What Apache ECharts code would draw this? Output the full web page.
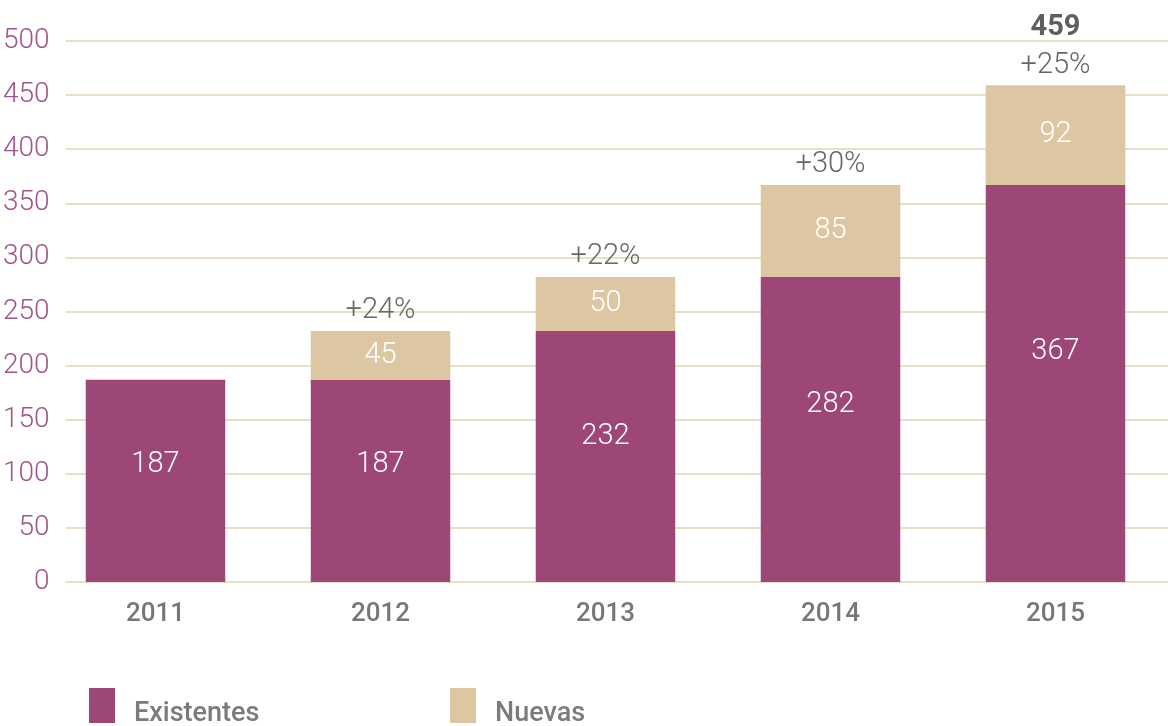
<!DOCTYPE html>
<html>
<head>
<meta charset="utf-8">
<script src="https://cdn.jsdelivr.net/npm/echarts@6/dist/echarts.min.js"></script>
<style>
  html, body { margin: 0; padding: 0; background: #fff; }
  #chart { width: 1168px; height: 726px; }
</style>
</head>
<body>
<div id="chart"></div>
<script>
const years = ['2011', '2012', '2013', '2014', '2015']
const existentes = [187, 187, 232, 282, 367]
const nuevas = [null, 45, 50, 85, 92]
const growth = ['', '+24%', '+22%', '+30%', '+25%']
const totals = ['', '', '', '', '459'] // only the last bar shows its total
const yTicks = { min: 0, max: 500, interval: 50 }

const purple = '#9c4775'
const tan = '#dcc7a2'
const thinFont = 'Roboto'

// legend text sits lower than the swatch in the original
const legendText = {
  formatter: '{a|{name}}',
  textStyle: {
    color: '#7b7b7b', fontSize: 27, fontFamily: 'Roboto', fontWeight: 500, padding: [0, 0, 0, 14],
    rich: { a: { color: '#7b7b7b', fontSize: 27, fontFamily: 'Roboto', fontWeight: 500, padding: [18, 0, 0, 0] } },
  },
}

const chart = echarts.init(document.getElementById('chart'))
chart.setOption({
  animation: false,
  grid: [
    // grid 0 just carries the y labels and the gridlines
    { left: 64, right: 0, top: 41, bottom: 144 },
    // grid 1 holds the bars (slightly wider so the categories line up)
    { left: 43, right: -10, top: 41, bottom: 144 },
  ],
  legend: [
    { data: ['Existentes'], left: 84, top: 683, itemWidth: 26, itemHeight: 35, icon: 'rect', ...legendText },
    { data: ['Nuevas'], left: 445, top: 683, itemWidth: 26, itemHeight: 35, icon: 'rect', ...legendText },
  ],
  xAxis: [
    { type: 'category', gridIndex: 0, data: years, show: false },
    {
      type: 'category', gridIndex: 1, data: years,
      axisLine: { show: false }, axisTick: { show: false },
      axisLabel: { color: '#777', fontSize: 26, fontFamily: 'Roboto', fontWeight: 500, margin: 19 },
    },
  ],
  yAxis: [
    {
      type: 'value', gridIndex: 0, ...yTicks,
      axisLine: { show: false }, axisTick: { show: false },
      axisLabel: { color: '#a0558a', fontSize: 28, fontFamily: thinFont, fontWeight: 300, margin: 16 },
      splitLine: { lineStyle: { color: '#e3d3b3', width: 1.5 } },
    },
    {
      type: 'value', gridIndex: 1, ...yTicks, show: false,
      splitLine: { show: false },
    },
  ],
  series: [
    {
      name: 'Existentes', type: 'bar', stack: 'total',
      xAxisIndex: 1, yAxisIndex: 1,
      barWidth: '62%',
      itemStyle: { color: purple },
      data: existentes,
      label: {
        show: true, position: ['50%', '42%'], align: 'center', verticalAlign: 'middle',
        color: '#fff', fontSize: 29, fontFamily: thinFont, fontWeight: 300,
      },
    },
    {
      name: 'Nuevas', type: 'bar', stack: 'total',
      xAxisIndex: 1, yAxisIndex: 1,
      barWidth: '62%',
      itemStyle: { color: tan },
      data: nuevas,
      label: {
        show: true, position: 'inside',
        color: '#fff', fontSize: 29, fontFamily: thinFont, fontWeight: 300,
      },
    },
    {
      // invisible helper that puts growth % (and total) above each stack
      name: 'top', type: 'bar', stack: 'total',
      xAxisIndex: 1, yAxisIndex: 1,
      barWidth: '62%',
      itemStyle: { color: 'transparent' },
      data: years.map(() => 0),
      silent: true,
      label: {
        show: true, position: 'top', distance: 1,
        formatter: p => {
          const i = p.dataIndex
          if (!growth[i]) return ''
          return totals[i] ? '{tot|' + totals[i] + '}\n{pct|' + growth[i] + '}' : '{pct|' + growth[i] + '}'
        },
        rich: {
          pct: { color: '#666', fontSize: 29, fontFamily: thinFont, fontWeight: 300, lineHeight: 38 },
          tot: { color: '#5f5f5f', fontSize: 29, fontFamily: thinFont, fontWeight: 'bold', lineHeight: 38 },
        },
      },
    },
  ],
})
</script>
</body>
</html>
